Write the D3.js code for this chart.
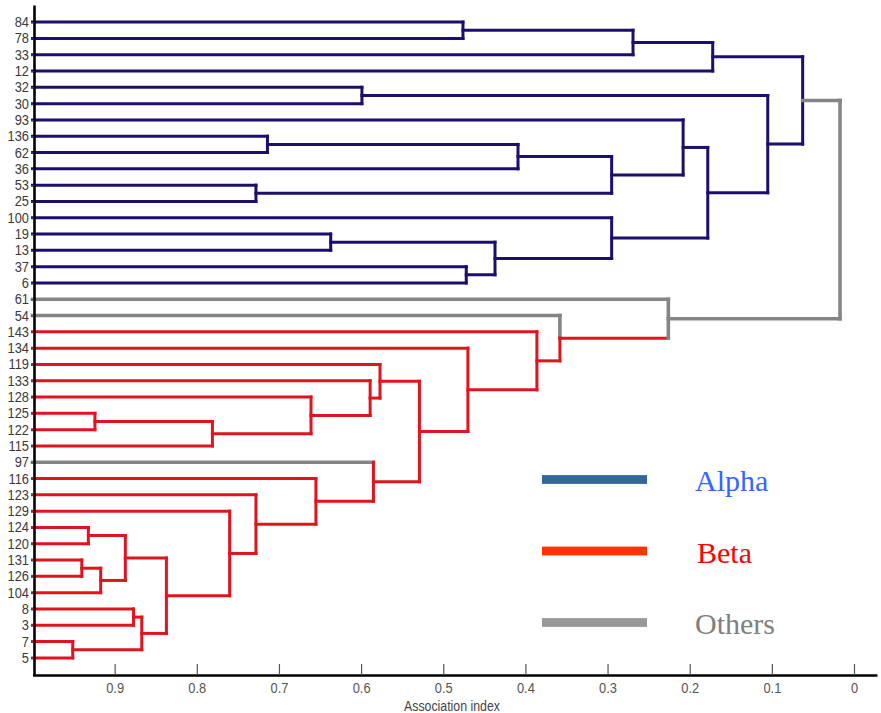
<!DOCTYPE html>
<html><head><meta charset="utf-8">
<script src="https://cdn.jsdelivr.net/npm/d3@7"></script>
<style>body{margin:0;background:#fff}svg{display:block}</style>
</head><body><svg id="c" width="881" height="713"></svg>
<script>
// ---- data ----
const leaves = ["84","78","33","12","32","30","93","136","62","36","53","25","100","19","13","37","6",
  "61","54","143","134","119","133","128","125","122","115","97","116","123","129","124","120","131","126","104","8","3","7","5"];
const leafGroup = ["A","A","A","A","A","A","A","A","A","A","A","A","A","A","A","A","A",
  "O","O","B","B","B","B","B","B","B","B","O","B","B","B","B","B","B","B","B","B","B","B","B"];
// merges: [childA, childB, association index]; merge k creates node "m"+k
const merges = [
  ["84","78",0.476],["m0","33",0.269],["m1","12",0.172],["32","30",0.599],
  ["136","62",0.714],["m4","36",0.409],["53","25",0.728],["m5","m6",0.295],
  ["93","m7",0.208],["19","13",0.637],["37","6",0.472],["m9","m10",0.437],
  ["100","m11",0.295],["m8","m12",0.178],["m3","m13",0.105],["m2","m14",0.0625],
  ["125","122",0.924],["m16","115",0.781],["128","m17",0.661],["133","m18",0.589],
  ["119","m19",0.577],["124","120",0.932],["131","126",0.940],["m22","104",0.917],
  ["m21","m23",0.887],["8","3",0.877],["7","5",0.951],["m25","m26",0.867],
  ["m24","m27",0.837],["129","m28",0.760],["123","m29",0.728],["116","m30",0.655],
  ["97","m31",0.585],["m20","m32",0.529],["134","m33",0.470],["143","m34",0.386],
  ["54","m35",0.358],["61","m36",0.226],["m15","m37",0.017]
];
// group of each merge's vertical bar (two letters = upper half / lower half)
const mergeBar = ["A","A","A","A","A","A","A","A","A","A","A","A","A","A","A","A",
  "B","B","B","B","B","B","B","B","B","B","B","B","B","B","B","B","B","B","B","B","OB","O","O"];
// group of the line joining each merge to its parent
const mergeUp = ["A","A","A","A","A","A","A","A","A","A","A","A","A","A","A","O",
  "B","B","B","B","B","B","B","B","B","B","B","B","B","B","B","B","B","B","B","B","B","O",""];
const xTicks = [0.9,0.8,0.7,0.6,0.5,0.4,0.3,0.2,0.1,0];
const xLabel = "Association index";
const legendNames = ["Alpha","Beta","Others"];
const legendGroups = ["A","B","O"];

// ---- styles ----
const lineColor = {A:"#1c0f6c", B:"#e0141e", O:"#858585"};
const lineWidth = {A:3, B:3, O:3.6};
const legendBar = {A:"#336699", B:"#ff3300", O:"#999999"};
const legendText = {A:"#3366ff", B:"#ff0000", O:"#808080"};

const svg = d3.select("#c");
const x = d3.scaleLinear().domain([1,-0.028]).range([32.5,877]);
const y = d3.scalePoint().domain(leaves).range([5,675]).padding(1.05);

// build node positions
const node = {};
leaves.forEach((l,i)=>{ node[l] = {h:1, y:y(l), up:leafGroup[i]}; });
merges.forEach((m,k)=>{
  const a=node[m[0]], b=node[m[1]];
  node["m"+k] = {h:m[2], y:(a.y+b.y)/2, up:mergeUp[k], a, b, bar:mergeBar[k]};
});

const g = svg.append("g");
function seg(x1,y1,x2,y2,grp){
  g.append("line").attr("x1",x1).attr("y1",y1).attr("x2",x2).attr("y2",y2)
   .attr("stroke",lineColor[grp]).attr("stroke-width",lineWidth[grp])
   .attr("stroke-linecap","square");
}
merges.forEach((m,k)=>{
  const n=node["m"+k];
  const xp = x(n.h);
  [n.a,n.b].forEach(c=>{ seg(x(c.h), c.y, xp, c.y, c.up); });
  if(n.bar.length===1){ seg(xp, n.a.y, xp, n.b.y, n.bar); }
  else { seg(xp, n.a.y, xp, n.y, n.bar[0]); seg(xp, n.y, xp, n.b.y, n.bar[1]); }
});

// axes
const ax = svg.append("g").attr("transform","translate(0,675)")
  .call(d3.axisBottom(x).tickValues(xTicks).tickSize(-11).tickSizeOuter(0).tickPadding(7)
    .tickFormat(d=> d===0 ? "0" : d3.format(".1f")(d)));
ax.select(".domain").attr("stroke","#000").attr("stroke-width",2.6);
ax.selectAll(".tick line").attr("stroke","#555").attr("stroke-width",1.2);
ax.selectAll(".tick text").attr("fill","#555").attr("font-family","Liberation Sans, Arial, sans-serif")
  .attr("font-size",15).attr("transform","scale(0.86,1)");

const ay = svg.append("g").attr("transform","translate(34,0)")
  .call(d3.axisLeft(y).tickSize(3).tickSizeOuter(0).tickPadding(2.5));
ay.select(".domain").attr("stroke","#000").attr("stroke-width",2.6);
ay.selectAll(".tick line").attr("stroke","#444").attr("stroke-width",1);
ay.selectAll(".tick text").attr("fill","#3a3a3a").attr("font-family","Liberation Sans, Arial, sans-serif")
  .attr("font-size",14).attr("transform","scale(0.92,1)");

svg.append("text").attr("x",452).attr("y",711).attr("text-anchor","middle")
  .attr("font-family","Liberation Sans, Arial, sans-serif").attr("font-size",14.5)
  .attr("fill","#444").attr("transform","translate(452,0) scale(0.85,1) translate(-452,0)")
  .text(xLabel);

// legend
const lg = svg.append("g");
legendNames.forEach((name,i)=>{
  const cy = 479.5 + i*71.5;
  lg.append("rect").attr("x",542).attr("y",cy-4.4).attr("width",105).attr("height",8.8)
    .attr("fill",legendBar[legendGroups[i]]);
  lg.append("text").attr("x",695 + (i===1?2:0)).attr("y",cy+11.8)
    .attr("font-family","Liberation Serif, Times New Roman, serif").attr("font-size",30)
    .attr("fill",legendText[legendGroups[i]]).text(name);
});
</script></body></html>
